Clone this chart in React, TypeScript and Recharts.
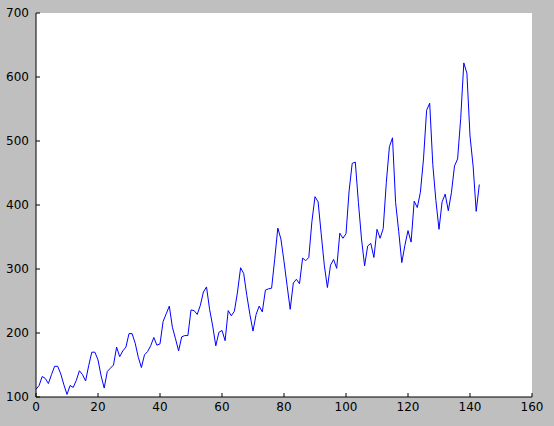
import React from "react";
import { LineChart, Line, XAxis, YAxis } from "recharts";

// monthly passengers, 1949-1960
const passengers = [
  112, 118, 132, 129, 121, 135, 148, 148, 136, 119, 104, 118,
  115, 126, 141, 135, 125, 149, 170, 170, 158, 133, 114, 140,
  145, 150, 178, 163, 172, 178, 199, 199, 184, 162, 146, 166,
  171, 180, 193, 181, 183, 218, 230, 242, 209, 191, 172, 194,
  196, 196, 236, 235, 229, 243, 264, 272, 237, 211, 180, 201,
  204, 188, 235, 227, 234, 264, 302, 293, 259, 229, 203, 229,
  242, 233, 267, 269, 270, 315, 364, 347, 312, 274, 237, 278,
  284, 277, 317, 313, 318, 374, 413, 405, 355, 306, 271, 306,
  315, 301, 356, 348, 355, 422, 465, 467, 404, 347, 305, 336,
  340, 318, 362, 348, 363, 435, 491, 505, 404, 359, 310, 337,
  360, 342, 406, 396, 420, 472, 548, 559, 463, 407, 362, 405,
  417, 391, 419, 461, 472, 535, 622, 606, 508, 461, 390, 432,
];

const xTicks = [0, 20, 40, 60, 80, 100, 120, 140, 160];
const yTicks = [100, 200, 300, 400, 500, 600, 700];

const data = passengers.map((v, i) => ({ idx: i, value: v }));

const font = { fontFamily: "DejaVu Sans", fontSize: 12, fill: "#000" };
const blank = () => "";

export default function App() {
  return (
    <div style={{ position: "absolute", left: 0, top: 0, width: 554, height: 426, background: "#bfbfbf" }}>
      <LineChart
        width={554}
        height={426}
        data={data}
        margin={{ top: 13, right: 22, bottom: 0, left: 0 }}
        style={{ background: "#bfbfbf" }}
      >
        <rect x={36} y={13} width={496} height={384} fill="#fff" />
        <XAxis
          dataKey="idx"
          type="number"
          domain={[0, 160]}
          ticks={xTicks}
          height={29}
          stroke="#000"
          tickSize={-4}
          tickMargin={9}
          tick={font}
          allowDataOverflow
        />
        <XAxis
          xAxisId="top"
          orientation="top"
          dataKey="idx"
          type="number"
          domain={[0, 160]}
          ticks={xTicks}
          height={0}
          stroke="#000"
          tickSize={-4}
          tickFormatter={blank}
          allowDataOverflow
        />
        <YAxis
          type="number"
          domain={[100, 700]}
          ticks={yTicks}
          width={36}
          stroke="#000"
          tickSize={-4}
          tickMargin={11}
          tick={font}
          allowDataOverflow
        />
        <YAxis
          yAxisId="right"
          orientation="right"
          type="number"
          domain={[100, 700]}
          ticks={yTicks}
          width={0}
          stroke="#000"
          tickSize={-4}
          tickFormatter={blank}
          allowDataOverflow
        />
        <Line
          dataKey="value"
          stroke="#0000ff"
          strokeWidth={1}
          dot={false}
          isAnimationActive={false}
        />
      </LineChart>
    </div>
  );
}
